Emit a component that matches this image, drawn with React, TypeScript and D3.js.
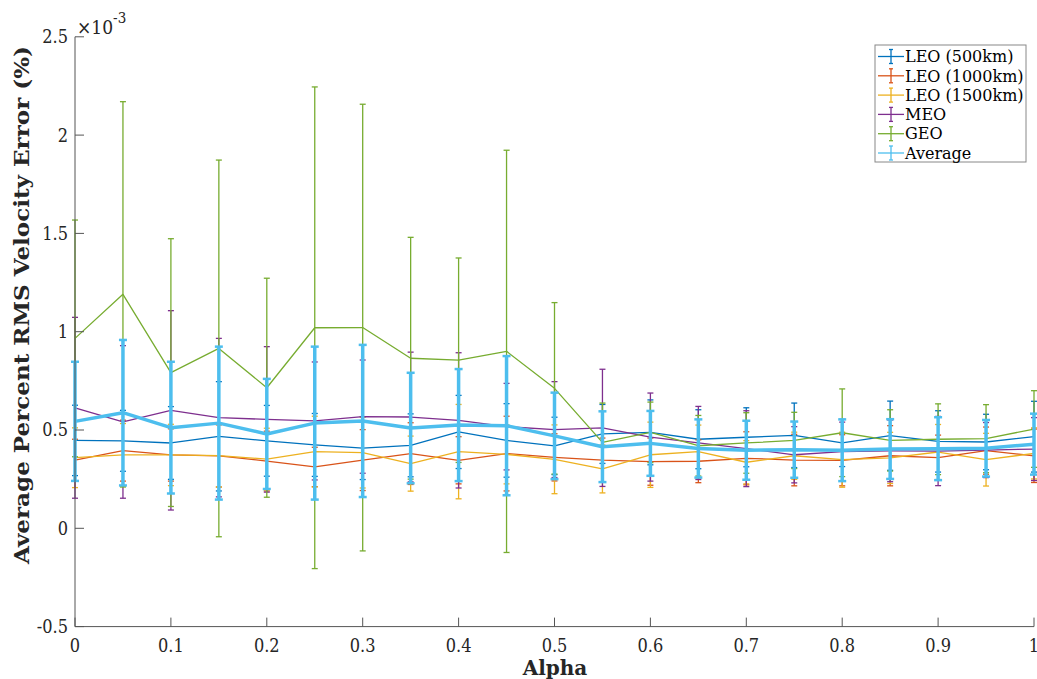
import React from "react";
import * as d3 from "d3";

// Alpha sweep values
const alphas = [0, 0.05, 0.1, 0.15, 0.2, 0.25, 0.3, 0.35, 0.4, 0.45, 0.5, 0.55, 0.6, 0.65, 0.7, 0.75, 0.8, 0.85, 0.9, 0.95, 1];

// Mean RMS velocity error (x1e-3 %) and half-width of the error bars
const leo500 = [0.447, 0.445, 0.434, 0.468, 0.445, 0.424, 0.408, 0.422, 0.49, 0.447, 0.419, 0.48, 0.488, 0.453, 0.463, 0.473, 0.434, 0.471, 0.442, 0.439, 0.466];
const leo500Err = [0.179, 0.155, 0.185, 0.278, 0.18, 0.16, 0.16, 0.16, 0.186, 0.187, 0.146, 0.15, 0.165, 0.15, 0.15, 0.164, 0.12, 0.176, 0.156, 0.141, 0.18];

const leo1000 = [0.347, 0.395, 0.373, 0.368, 0.342, 0.312, 0.347, 0.38, 0.346, 0.38, 0.361, 0.347, 0.339, 0.341, 0.356, 0.347, 0.346, 0.369, 0.359, 0.395, 0.369];
const leo1000Err = [0.106, 0.155, 0.133, 0.158, 0.152, 0.1, 0.155, 0.157, 0.12, 0.19, 0.12, 0.112, 0.12, 0.109, 0.135, 0.131, 0.13, 0.153, 0.115, 0.12, 0.136];

const leo1500 = [0.359, 0.373, 0.373, 0.37, 0.352, 0.39, 0.385, 0.329, 0.39, 0.376, 0.351, 0.302, 0.374, 0.39, 0.336, 0.369, 0.349, 0.358, 0.388, 0.349, 0.381];
const leo1500Err = [0.152, 0.16, 0.156, 0.16, 0.157, 0.18, 0.18, 0.14, 0.24, 0.15, 0.175, 0.122, 0.166, 0.135, 0.11, 0.12, 0.14, 0.13, 0.14, 0.134, 0.13];

const meo = [0.613, 0.541, 0.6, 0.563, 0.554, 0.546, 0.568, 0.566, 0.549, 0.517, 0.502, 0.511, 0.464, 0.434, 0.405, 0.374, 0.39, 0.394, 0.393, 0.398, 0.403];
const meoErr = [0.46, 0.388, 0.507, 0.403, 0.37, 0.3, 0.288, 0.33, 0.344, 0.22, 0.244, 0.298, 0.224, 0.186, 0.193, 0.143, 0.15, 0.157, 0.176, 0.14, 0.16];

const geo = [0.966, 1.19, 0.792, 0.915, 0.715, 1.02, 1.021, 0.865, 0.855, 0.9, 0.712, 0.437, 0.488, 0.42, 0.434, 0.447, 0.486, 0.447, 0.453, 0.456, 0.505];
const geoErr = [0.602, 0.98, 0.681, 0.958, 0.557, 1.225, 1.136, 0.615, 0.52, 1.023, 0.436, 0.2, 0.154, 0.154, 0.154, 0.143, 0.223, 0.156, 0.18, 0.173, 0.195];

const average = [0.544, 0.588, 0.512, 0.535, 0.48, 0.535, 0.546, 0.51, 0.525, 0.522, 0.47, 0.415, 0.432, 0.406, 0.397, 0.4, 0.397, 0.403, 0.405, 0.407, 0.428];
const averageErr = [0.303, 0.37, 0.335, 0.389, 0.28, 0.389, 0.387, 0.281, 0.285, 0.354, 0.22, 0.18, 0.165, 0.148, 0.15, 0.143, 0.157, 0.152, 0.16, 0.144, 0.155];

const seriesNames = ["LEO (500km)", "LEO (1000km)", "LEO (1500km)", "MEO", "GEO", "Average"];
const seriesColors = ["#0072BD", "#D95319", "#EDB120", "#7E2F8E", "#77AC30", "#4DBEEE"];
const seriesValues = [leo500, leo1000, leo1500, meo, geo, average];
const seriesErrors = [leo500Err, leo1000Err, leo1500Err, meoErr, geoErr, averageErr];

const xTicks = [0, 0.1, 0.2, 0.3, 0.4, 0.5, 0.6, 0.7, 0.8, 0.9, 1];
const yTicks = [-0.5, 0, 0.5, 1, 1.5, 2, 2.5];

const W = 1037;
const H = 679;
const FONT = "'DejaVu Serif', serif";
const TICK_FONT = "'DejaVu Serif Condensed', 'DejaVu Serif', serif";
const AXIS = "#555555";
const TEXT = "#262626";

export default function App() {
  const x = d3.scaleLinear().domain([0, 1]).range([75, 1034]);
  const y = d3.scaleLinear().domain([-0.5, 2.5]).range([626.6, 36.8]);

  const line = d3
    .line<number>()
    .x((_, i) => x(alphas[i]))
    .y((v) => y(v));

  return (
    <svg
      width={W}
      height={H}
      style={{ position: "absolute", left: 0, top: 0, background: "#fff" }}
      fontFamily={FONT}
    >
      <rect width={W} height={H} fill="#fff" />

      {/* series: error bars, then the connecting line */}
      {seriesValues.map((vals, s) => {
        const thick = s === 5;
        const sw = thick ? 3.5 : 1.3;
        const cap = thick ? 4 : 3;
        const color = seriesColors[s];
        return (
          <g key={seriesNames[s]}>
            {vals.map((v, i) => {
              const e = seriesErrors[s][i];
              const cx = x(alphas[i]);
              const y1 = y(v + e);
              const y0 = y(v - e);
              return (
                <g key={i} stroke={color} strokeWidth={sw}>
                  <line x1={cx} x2={cx} y1={y1} y2={y0} />
                  <line x1={cx - cap} x2={cx + cap} y1={y1} y2={y1} strokeWidth={thick ? 2.5 : 1.3} />
                  <line x1={cx - cap} x2={cx + cap} y1={y0} y2={y0} strokeWidth={thick ? 2.5 : 1.3} />
                </g>
              );
            })}
            <path d={line(vals) || ""} fill="none" stroke={color} strokeWidth={sw} strokeLinejoin="round" />
          </g>
        );
      })}

      {/* axes */}
      <line x1={75} x2={75} y1={y(2.5)} y2={y(-0.5)} stroke={AXIS} strokeWidth={1} />
      <line x1={75} x2={1034} y1={y(-0.5)} y2={y(-0.5)} stroke={AXIS} strokeWidth={1} />
      {yTicks.map((t) => (
        <g key={"y" + t}>
          <line x1={75} x2={84} y1={y(t)} y2={y(t)} stroke={AXIS} strokeWidth={1} />
          <text
            x={68}
            y={y(t)}
            dy="0.36em"
            textAnchor="end"
            fontSize={18}
            fontFamily={TICK_FONT}
            style={{ fontStretch: "condensed" }}
            fill={TEXT}
          >
            {t}
          </text>
        </g>
      ))}
      {xTicks.map((t) => (
        <g key={"x" + t}>
          <line x1={x(t)} x2={x(t)} y1={y(-0.5)} y2={y(-0.5) - 9} stroke={AXIS} strokeWidth={1} />
          <text
            x={x(t)}
            y={652}
            textAnchor="middle"
            fontSize={18}
            fontFamily={TICK_FONT}
            style={{ fontStretch: "condensed" }}
            fill={TEXT}
          >
            {t}
          </text>
        </g>
      ))}

      {/* exponent marker */}
      <text x={77} y={34} fontSize={19} fontFamily={TICK_FONT} style={{ fontStretch: "condensed" }} fill={TEXT}>
        ×10
        <tspan dy={-11} fontSize={15}>
          -3
        </tspan>
      </text>

      {/* axis titles */}
      <text x={555} y={675} textAnchor="middle" fontSize={20} fontWeight="bold" fill={TEXT}>
        Alpha
      </text>
      <text
        transform={`translate(29, 305) rotate(-90)`}
        textAnchor="middle"
        fontSize={21}
        fontWeight="bold"
        fill={TEXT}
        textLength={518}
        lengthAdjust="spacingAndGlyphs"
      >
        Average Percent RMS Velocity Error (%)
      </text>

      {/* legend */}
      <g>
        <rect x={875} y={45} width={151} height={117} fill="#fff" stroke="#888" strokeWidth={1} />
        {seriesNames.map((name, i) => {
          const cy = 56.5 + i * 19.3;
          const c = seriesColors[i];
          return (
            <g key={name}>
              <line x1={878} x2={904} y1={cy} y2={cy} stroke={c} strokeWidth={1.3} />
              <line x1={891} x2={891} y1={cy - 7} y2={cy + 7} stroke={c} strokeWidth={1.3} />
              <line x1={889} x2={893} y1={cy - 7} y2={cy - 7} stroke={c} strokeWidth={1.3} />
              <line x1={889} x2={893} y1={cy + 7} y2={cy + 7} stroke={c} strokeWidth={1.3} />
              <text x={905} y={cy} dy="0.36em" fontSize={16} fill="#000">
                {name}
              </text>
            </g>
          );
        })}
      </g>
    </svg>
  );
}
